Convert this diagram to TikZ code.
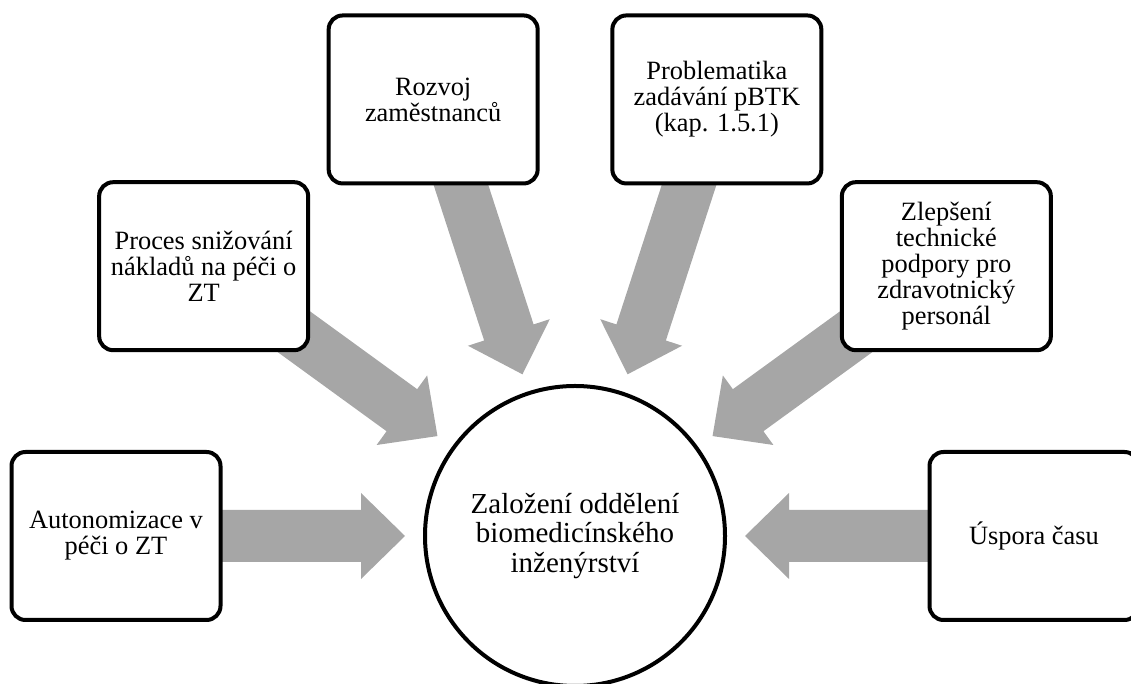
\documentclass[tikz,border=0pt]{standalone}
\usepackage{fontspec}
\setmainfont{Liberation Serif}
\usetikzlibrary{backgrounds,calc}
\definecolor{arrowgray}{RGB}{166,166,166}
\tikzset{
  box/.style={draw=black, line width=4pt, fill=white, rounded corners=14pt,
    minimum width=209pt, minimum height=168pt, inner sep=0pt, align=center,
    font=\fontsize{26.4}{26}\selectfont},
  hub/.style={circle, draw=black, line width=4pt, fill=white, minimum size=300pt,
    inner sep=0pt, align=center, font=\fontsize{29}{29.3}\selectfont},
  blockarrow/.style={fill=arrowgray, draw=none},
}
\newcommand\radarrow[1]{%
  \fill[blockarrow, shift={(c.center)}, rotate=#1]
    (170,0) -- (214,43) -- (214,26) -- (420,26) -- (420,-26)
    -- (214,-26) -- (214,-43) -- cycle;}
\begin{document}
\begin{tikzpicture}[x=1pt,y=1pt]
\useasboundingbox (0,0) rectangle (1131,684);
\coordinate (ctr) at (575,148);
\node[hub] (c) at (ctr) {Založení oddělení\\biomedicínského\\inženýrství};
\node[box] (b1) at ($(ctr)+(180:459)$) {Autonomizace v\\péči o ZT};
\node[box] (b2) at ($(ctr)+(144:459)$) {Proces snižování\\nákladů na péči o\\ZT};
\node[box] (b3) at ($(ctr)+(108:459)$) {Rozvoj\\zaměstnanců};
\node[box] (b4) at ($(ctr)+(72:459)$) {Problematika\\zadávání pBTK\\(kap. 1.5.1)};
\node[box] (b5) at ($(ctr)+(36:459)$) {Zlepšení\\technické\\podpory pro\\zdravotnický\\personál};
\node[box] (b6) at ($(ctr)+(0:459)$) {Úspora času};
\begin{scope}[on background layer]
  \radarrow{180}
  \radarrow{144}
  \radarrow{108}
  \radarrow{72}
  \radarrow{36}
  \radarrow{0}
\end{scope}
\end{tikzpicture}
\end{document}
